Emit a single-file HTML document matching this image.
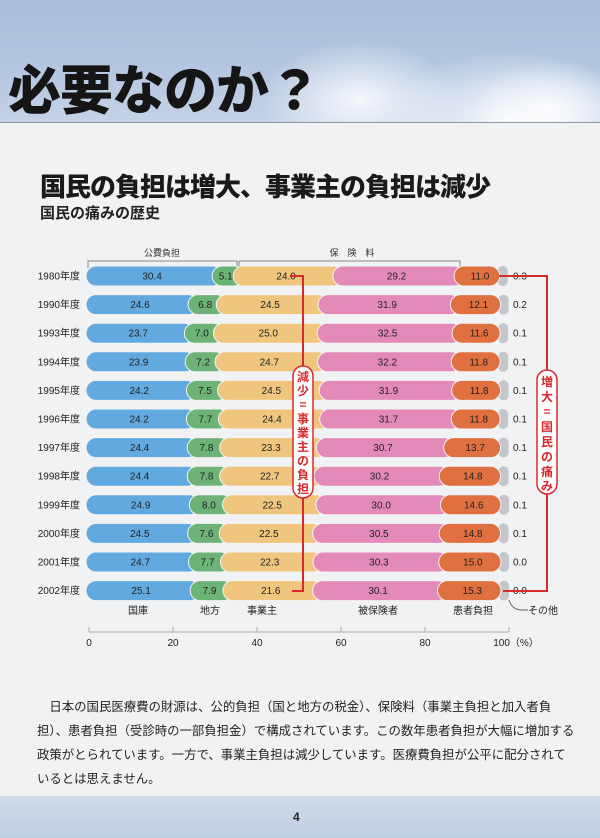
<!DOCTYPE html>
<html><head><meta charset="utf-8"><style>
html,body{margin:0;padding:0}
body{width:600px;height:838px;overflow:hidden;background:#f1f2f4;position:relative;font-family:"Liberation Sans","Noto Sans CJK JP",sans-serif}
.sky{position:absolute;left:0;top:0;width:600px;height:122px;background:linear-gradient(180deg,#a9bcd9 0%,#b5c7e0 60%,#c4d3e6 100%);overflow:hidden;border-bottom:1px solid #8d97a3}
.cloud{position:absolute;border-radius:50%;background:radial-gradient(ellipse at center,rgba(255,255,255,.85),rgba(255,255,255,0) 70%)}
h1{position:absolute;left:8px;top:54px;margin:0;font-size:53px;font-weight:900;color:#151515;letter-spacing:-1px;font-family:"Noto Sans CJK JP",sans-serif;line-height:66px}
.t2{position:absolute;left:40px;top:168px;font-size:26px;font-weight:900;color:#1a1a1a;font-family:"Noto Sans CJK JP",sans-serif;letter-spacing:-1px;line-height:36px}
.t3{position:absolute;left:40px;top:202px;font-size:15px;font-weight:700;color:#222;font-family:"Noto Sans CJK JP",sans-serif}
.p{position:absolute;left:37px;top:694px;font-size:12.4px;line-height:24px;color:#222;font-family:"Noto Sans CJK JP",sans-serif;white-space:nowrap}
.foot{position:absolute;left:0;top:796px;width:600px;height:42px;background:linear-gradient(180deg,#d2dcea,#c0cde0)}
.pn{position:absolute;left:293px;top:810px;font-size:12px;font-weight:700;color:#222}
</style></head><body>
<div class="sky">
<div class="cloud" style="left:260px;top:40px;width:200px;height:120px"></div>
<div class="cloud" style="left:380px;top:50px;width:260px;height:140px"></div>
<div class="cloud" style="left:470px;top:60px;width:160px;height:100px"></div>
</div>
<h1>必要なのか？</h1>
<div class="t2">国民の負担は増大、事業主の負担は減少</div>
<div class="t3">国民の痛みの歴史</div>
<svg width="600" height="838" style="position:absolute;left:0;top:0" xmlns="http://www.w3.org/2000/svg" font-family="Liberation Sans, Noto Sans CJK JP, sans-serif">
<g stroke="#888" fill="none" stroke-width="1">
<path d="M88 268V261H237V268M239 268V261H460V268"/>
</g>
<text x="162" y="256" font-size="9" text-anchor="middle" fill="#333">公費負担</text>
<text x="352" y="256" font-size="9" text-anchor="middle" fill="#333">保　険　料</text>
<g id="bars"></g>
<g stroke="#d8292c" stroke-width="2" fill="none">
<path d="M290 276H303V591H292"/>
<path d="M499 276H547V591H503"/>
</g>
<rect x="293" y="366" width="20" height="132" rx="10" fill="#fff" stroke="#d8292c" stroke-width="1.5"/>
<rect x="537" y="370" width="20" height="124" rx="10" fill="#fff" stroke="#d8292c" stroke-width="1.5"/>
<g font-size="12" font-weight="700" fill="#d8292c" text-anchor="middle" font-family="Noto Sans CJK JP, sans-serif">
<text x="303" y="381">減</text><text x="303" y="395">少</text><text x="303" y="409">=</text><text x="303" y="423">事</text><text x="303" y="437">業</text><text x="303" y="451">主</text><text x="303" y="465">の</text><text x="303" y="479">負</text><text x="303" y="493">担</text>
<text x="547" y="386">増</text><text x="547" y="401">大</text><text x="547" y="416">=</text><text x="547" y="431">国</text><text x="547" y="446">民</text><text x="547" y="461">の</text><text x="547" y="476">痛</text><text x="547" y="490">み</text>
</g>
<g font-size="10" fill="#222" text-anchor="middle">
<text x="138" y="614">国庫</text><text x="210" y="614">地方</text><text x="262" y="614">事業主</text><text x="378" y="614">被保険者</text><text x="473" y="614">患者負担</text><text x="543" y="614">その他</text>
</g>
<path d="M509 600Q512 610 522 610H528" stroke="#666" fill="none"/>
<g stroke="#aaa" stroke-width="1"><path d="M89 632H509M89 627V632M173 627V632M257 627V632M341 627V632M425 627V632M509 627V632"/></g>
<g font-size="10" fill="#222" text-anchor="middle">
<text x="89" y="646">0</text><text x="173" y="646">20</text><text x="257" y="646">40</text><text x="341" y="646">60</text><text x="425" y="646">80</text><text x="516" y="646">100（%）</text>
</g>
</svg>
<div class="p">　日本の国民医療費の財源は、公的負担（国と地方の税金）、保険料（事業主負担と加入者負<br>担）、患者負担（受診時の一部負担金）で構成されています。この数年患者負担が大幅に増加する<br>政策がとられています。一方で、事業主負担は減少しています。医療費負担が公平に配分されて<br>いるとは思えません。</div>
<div class="foot"></div>
<div class="pn">4</div>
<script>
var d=[["1980",30.4,5.1,24.0,29.2,11.0,0.3],["1990",24.6,6.8,24.5,31.9,12.1,0.2],["1993",23.7,7.0,25.0,32.5,11.6,0.1],["1994",23.9,7.2,24.7,32.2,11.8,0.1],["1995",24.2,7.5,24.5,31.9,11.8,0.1],["1996",24.2,7.7,24.4,31.7,11.8,0.1],["1997",24.4,7.8,23.3,30.7,13.7,0.1],["1998",24.4,7.8,22.7,30.2,14.8,0.1],["1999",24.9,8.0,22.5,30.0,14.6,0.1],["2000",24.5,7.6,22.5,30.5,14.8,0.1],["2001",24.7,7.7,22.3,30.3,15.0,0.0],["2002",25.1,7.9,21.6,30.1,15.3,0.0]];
var c=["#62a9e0","#6db377","#f0c67f","#e48ab8","#e07040"];
var s="";
d.forEach(function(r,i){var y=276+i*28.6;var x=86;
s+='<text x="80" y="'+(y+3.5)+'" font-size="10" text-anchor="end" fill="#222">'+r[0]+'年度</text>';
var segs=[];
for(var k=1;k<=5;k++){var w=r[k]*4.15;segs.push([x,w,c[k-1],r[k]]);x+=w;}
s+='<rect x="'+(x-2)+'" y="'+(y-10)+'" width="10" height="20" rx="5" fill="#c3c6ca"/>';
segs.forEach(function(g,k){var ww=g[1]+(k<4?10:0);s+='<rect x="'+g[0]+'" y="'+(y-10)+'" width="'+ww+'" height="20" rx="10" fill="'+g[2]+'" stroke="#f4f4f4" stroke-width="1"/>';});
segs.forEach(function(g){s+='<text x="'+(g[0]+g[1]/2+3)+'" y="'+(y+3.5)+'" font-size="10" text-anchor="middle" fill="#222">'+g[3].toFixed(1)+'</text>';});
s+='<text x="513" y="'+(y+3.5)+'" font-size="10" fill="#222">'+r[6].toFixed(1)+'</text>';
});
document.getElementById("bars").innerHTML=s;
</script>
</body></html>
